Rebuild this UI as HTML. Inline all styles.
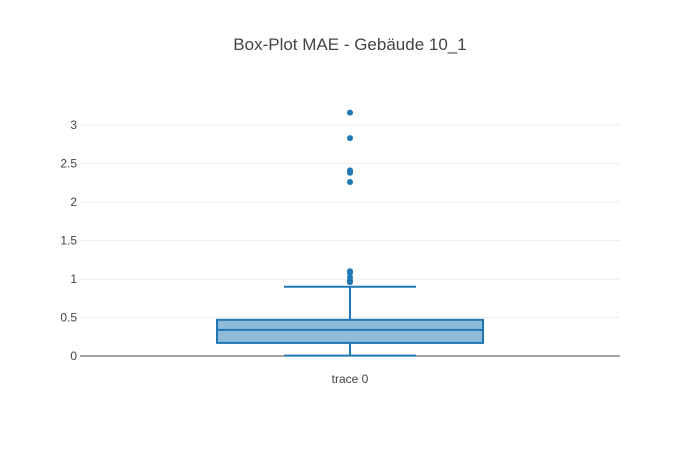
<!DOCTYPE html>
<html><head><meta charset="utf-8"><style>
body{margin:0;background:#fff;font-family:"Liberation Sans",sans-serif}
</style></head><body>
<svg id="chart" width="700" height="450" xmlns="http://www.w3.org/2000/svg" style="font-family:'Liberation Sans',sans-serif">
<rect width="700" height="450" fill="#fff"/>
<text x="350" y="50" text-anchor="middle" font-size="17" fill="#444">Box-Plot MAE - Gebäude 10_1</text>
<g id="grid"></g><g id="marks"></g>
</svg>
<script>
const yTicks=[0,0.5,1,1.5,2,2.5,3];
const yTickLabels=["0","0.5","1","1.5","2","2.5","3"];
const categories=["trace 0"];
const lowerWhisker=[0.005];
const q1=[0.17];
const median=[0.34];
const q3=[0.47];
const upperWhisker=[0.90];
const outliers=[3.16,2.83,2.41,2.38,2.26,1.10,1.08,1.02,0.98,0.96];

const NS="http://www.w3.org/2000/svg";
const X0=80,X1=620,Y0=356,PXU=77;
const y=v=>Y0-v*PXU;
const xc=i=>X0+(X1-X0)*(i+0.5)/categories.length;
function mk(t,a,p){const e=document.createElementNS(NS,t);for(const k in a)e.setAttribute(k,a[k]);p.appendChild(e);return e;}
const grid=document.getElementById('grid'),marks=document.getElementById('marks');
yTicks.forEach((v,i)=>{
  if(v!==0){const l=mk('line',{x1:X0,x2:X1,y1:y(v),y2:y(v),stroke:'#eee','stroke-width':1},grid);
  
  }
  const t=mk('text',{x:X0-3,y:y(v)+4,'text-anchor':'end','font-size':12,fill:'#444'},grid);t.textContent=yTickLabels[i];
  
  
});
const zl=mk('line',{x1:X0,x2:X1,y1:y(0),y2:y(0),stroke:'#444','stroke-width':1},grid);


categories.forEach((c,i)=>{
  const cx=xc(i),hw=133,cw=66,col='#1f77b4';
  const g=mk('g',{},marks);
  
  
  mk('line',{x1:cx,x2:cx,y1:y(q3[i]),y2:y(upperWhisker[i]),stroke:col,'stroke-width':2},g);
  mk('line',{x1:cx,x2:cx,y1:y(q1[i]),y2:y(lowerWhisker[i]),stroke:col,'stroke-width':2},g);
  mk('line',{x1:cx-cw,x2:cx+cw,y1:y(upperWhisker[i]),y2:y(upperWhisker[i]),stroke:col,'stroke-width':2},g);
  mk('line',{x1:cx-cw,x2:cx+cw,y1:y(lowerWhisker[i]),y2:y(lowerWhisker[i]),stroke:col,'stroke-width':2},g);
  mk('rect',{x:cx-hw,y:y(q3[i]),width:2*hw,height:y(q1[i])-y(q3[i]),fill:'rgba(31,119,180,0.5)',stroke:col,'stroke-width':2},g);
  mk('line',{x1:cx-hw,x2:cx+hw,y1:y(median[i]),y2:y(median[i]),stroke:col,'stroke-width':2},g);
  outliers.forEach(v=>{const p=mk('circle',{cx:cx,cy:y(v),r:3,fill:col},marks);
    
    });
  const t=mk('text',{x:cx,y:383,'text-anchor':'middle','font-size':12,fill:'#444'},marks);t.textContent=c;
  
  
});
</script>
</body></html>
